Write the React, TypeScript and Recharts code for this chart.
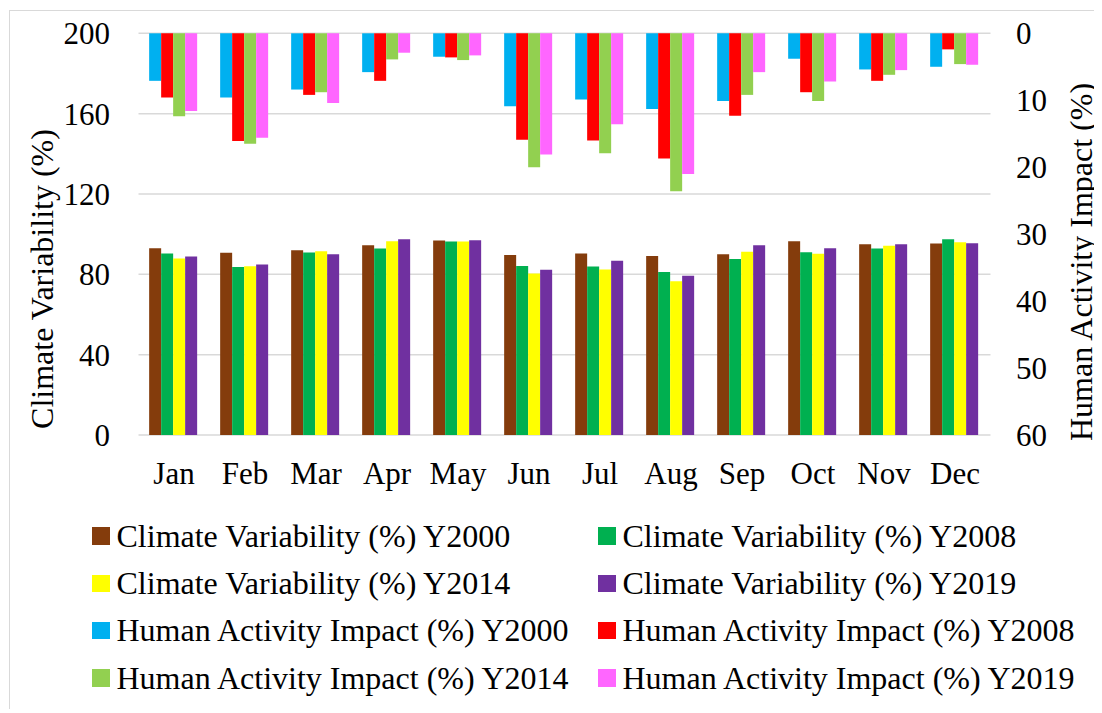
import { BarChart, Bar, XAxis, YAxis, CartesianGrid } from 'recharts'

const months = ['Jan', 'Feb', 'Mar', 'Apr', 'May', 'Jun', 'Jul', 'Aug', 'Sep', 'Oct', 'Nov', 'Dec']

// climate variability (%), left axis
const cv2000 = [93.0, 90.7, 92.0, 94.5, 96.9, 89.6, 90.4, 89.1, 90.0, 96.5, 95.0, 95.4]
const cv2008 = [90.4, 83.7, 90.9, 92.9, 96.4, 84.1, 83.9, 81.1, 87.6, 91.0, 92.9, 97.5]
const cv2014 = [87.9, 84.0, 91.5, 96.5, 96.4, 80.4, 82.4, 76.6, 91.2, 90.2, 94.2, 96.0]
const cv2019 = [88.9, 84.9, 90.0, 97.4, 97.0, 82.3, 86.7, 79.3, 94.5, 93.0, 95.0, 95.5]

// human activity impact (%), right axis (reversed, hangs from the top)
const ha2000 = [7.1, 9.6, 8.4, 5.8, 3.5, 10.9, 9.9, 11.3, 10.1, 3.8, 5.4, 5.0]
const ha2008 = [9.6, 16.1, 9.2, 7.1, 3.6, 15.9, 16.0, 18.7, 12.3, 8.8, 7.1, 2.4]
const ha2014 = [12.4, 16.5, 8.8, 3.9, 4.0, 20.0, 17.9, 23.6, 9.2, 10.1, 6.2, 4.6]
const ha2019 = [11.6, 15.6, 10.4, 2.9, 3.3, 18.1, 13.6, 21.0, 5.8, 7.2, 5.5, 4.7]

const leftTicks = [0, 40, 80, 120, 160, 200]
const rightTicks = [0, 10, 20, 30, 40, 50, 60]

const climateKeys = ['cv2000', 'cv2008', 'cv2014', 'cv2019']
const climateNames = [
  'Climate Variability (%) Y2000',
  'Climate Variability (%) Y2008',
  'Climate Variability (%) Y2014',
  'Climate Variability (%) Y2019',
]
const humanKeys = ['ha2000', 'ha2008', 'ha2014', 'ha2019']
const humanNames = [
  'Human Activity Impact (%) Y2000',
  'Human Activity Impact (%) Y2008',
  'Human Activity Impact (%) Y2014',
  'Human Activity Impact (%) Y2019',
]

const COLORS: Record<string, string> = {
  cv2000: '#843C0C',
  cv2008: '#00B050',
  cv2014: '#FFFF00',
  cv2019: '#7030A0',
  ha2000: '#00B0F0',
  ha2008: '#FF0000',
  ha2014: '#92D050',
  ha2019: '#FF66FF',
}

const FONT = '"Liberation Serif", "Times New Roman", serif'

const data = months.map((month, i) => ({
  month,
  cv2000: cv2000[i],
  cv2008: cv2008[i],
  cv2014: cv2014[i],
  cv2019: cv2019[i],
  ha2000: ha2000[i],
  ha2008: ha2008[i],
  ha2014: ha2014[i],
  ha2019: ha2019[i],
}))

// legend reads row by row, two columns
const legendItems = [
  { key: climateKeys[0], name: climateNames[0] },
  { key: climateKeys[1], name: climateNames[1] },
  { key: climateKeys[2], name: climateNames[2] },
  { key: climateKeys[3], name: climateNames[3] },
  { key: humanKeys[0], name: humanNames[0] },
  { key: humanKeys[1], name: humanNames[1] },
  { key: humanKeys[2], name: humanNames[2] },
  { key: humanKeys[3], name: humanNames[3] },
]

const tickStyle = { fill: '#000', fontSize: 31, fontFamily: FONT }

function AxisTitle({ text, x, y }: { text: string; x: number; y: number }) {
  return (
    <div
      style={{
        position: 'absolute',
        left: x,
        top: y,
        transform: 'translate(-50%, -50%) rotate(-90deg)',
        whiteSpace: 'nowrap',
        fontFamily: FONT,
        fontSize: 32,
        color: '#000',
      }}
    >
      {text}
    </div>
  )
}

export default function App() {
  return (
    <div
      style={{
        position: 'relative',
        left: 1,
        top: 2,
        width: 1090,
        height: 701,
        border: '1px solid #d9d9d9',
        boxSizing: 'border-box',
        background: '#fff',
      }}
    >
      <BarChart
        width={1088}
        height={500}
        data={data}
        margin={{ top: 22.3, right: 47.5, bottom: 46, left: 68.5 }}
        barCategoryGap="15%"
        barGap={0}
      >
        <CartesianGrid
          xAxisId="cv"
          yAxisId="left"
          vertical={false}
          stroke="#d9d9d9"
          strokeWidth={1.5}
        />
        <XAxis
          xAxisId="cv"
          dataKey="month"
          interval={0}
          axisLine={false}
          tickLine={false}
          tickSize={0}
          tickMargin={27}
          tick={tickStyle}
        />
        <XAxis xAxisId="ha" dataKey="month" hide />
        <YAxis
          yAxisId="left"
          domain={[0, 200]}
          ticks={leftTicks}
          width={60}
          axisLine={false}
          tickLine={false}
          tickSize={0}
          tickMargin={28.5}
          tick={tickStyle}
        />
        <YAxis
          yAxisId="right"
          orientation="right"
          reversed
          domain={[0, 60]}
          ticks={rightTicks}
          width={60}
          axisLine={false}
          tickLine={false}
          tickSize={0}
          tickMargin={25.5}
          tick={tickStyle}
        />
        {climateKeys.map((k, i) => (
          <Bar
            key={k}
            xAxisId="cv"
            yAxisId="left"
            dataKey={k}
            name={climateNames[i]}
            fill={COLORS[k]}
            isAnimationActive={false}
          />
        ))}
        {humanKeys.map((k, i) => (
          <Bar
            key={k}
            xAxisId="ha"
            yAxisId="right"
            dataKey={k}
            name={humanNames[i]}
            fill={COLORS[k]}
            isAnimationActive={false}
          />
        ))}
      </BarChart>

      <AxisTitle text="Climate Variability (%)" x={32} y={268} />
      <AxisTitle text="Human Activity Impact (%)" x={1071} y={250.5} />

      <div
        style={{
          position: 'absolute',
          left: 0,
          top: 501.5,
          width: 1088,
          display: 'grid',
          gridTemplateColumns: '506px 500px',
          paddingLeft: 82,
          boxSizing: 'border-box',
          fontFamily: FONT,
          fontSize: 32,
          color: '#000',
        }}
      >
        {legendItems.map((item) => (
          <div
            key={item.key}
            style={{ display: 'flex', alignItems: 'center', height: 47.3, whiteSpace: 'nowrap' }}
          >
            <span
              style={{
                display: 'inline-block',
                width: 17.5,
                height: 17.5,
                background: COLORS[item.key],
                marginRight: 7,
                flexShrink: 0,
              }}
            />
            <span>{item.name}</span>
          </div>
        ))}
      </div>
    </div>
  )
}
